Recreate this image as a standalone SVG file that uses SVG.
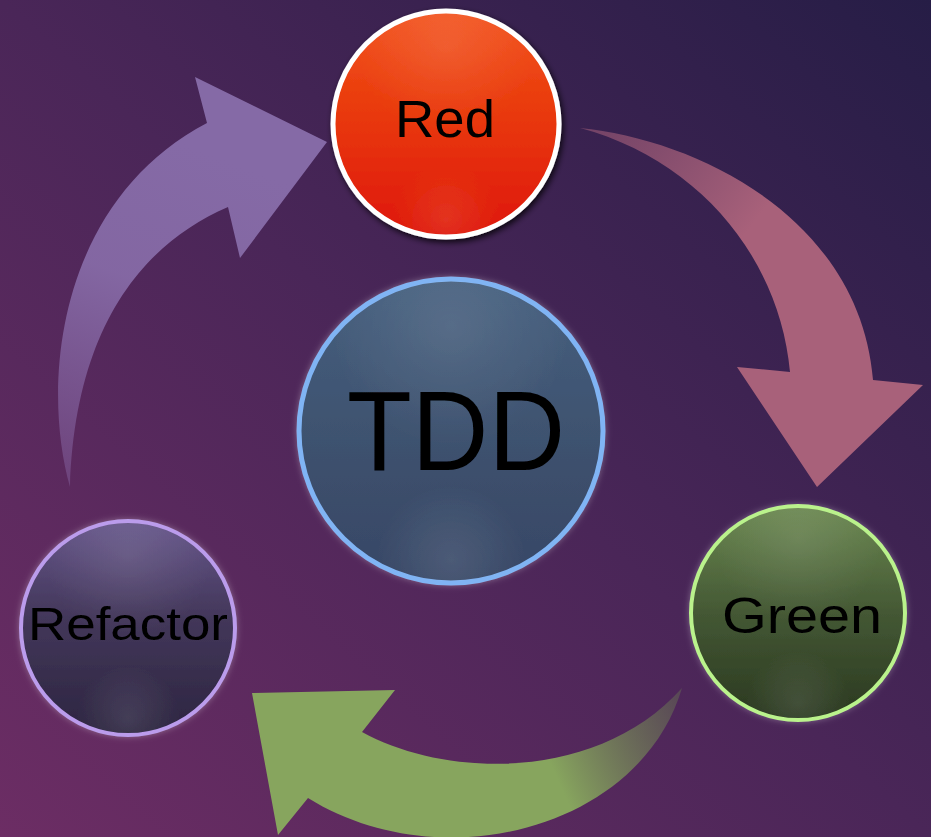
<svg xmlns="http://www.w3.org/2000/svg" width="931" height="837" viewBox="0 0 931 837">
<defs>
<linearGradient id="bg" x1="0" y1="1" x2="1" y2="0">
<stop offset="0" stop-color="#6c2d64"/>
<stop offset="0.5" stop-color="#4a2658"/>
<stop offset="1" stop-color="#261d46"/>
</linearGradient>
<linearGradient id="gPurple" gradientUnits="userSpaceOnUse" x1="70" y1="487" x2="200" y2="150">
<stop offset="0" stop-color="#8a6aa8" stop-opacity="0.4"/>
<stop offset="0.6" stop-color="#866aa6" stop-opacity="0.95"/>
<stop offset="1" stop-color="#856aa6"/>
</linearGradient>
<linearGradient id="gPink" gradientUnits="userSpaceOnUse" x1="580" y1="128" x2="800" y2="300">
<stop offset="0" stop-color="#8a5070" stop-opacity="0.7"/>
<stop offset="0.7" stop-color="#a8617a"/>
<stop offset="1" stop-color="#a8617a"/>
</linearGradient>
<linearGradient id="gGreen" gradientUnits="userSpaceOnUse" x1="682" y1="700" x2="460" y2="800">
<stop offset="0" stop-color="#6a7a52" stop-opacity="0.4"/>
<stop offset="0.6" stop-color="#87a55e"/>
<stop offset="1" stop-color="#87a55e"/>
</linearGradient>
<linearGradient id="lRed" x1="0" y1="0" x2="0" y2="1">
<stop offset="0" stop-color="#f25420"/>
<stop offset="0.5" stop-color="#e83608"/>
<stop offset="1" stop-color="#de1608"/>
</linearGradient>
<linearGradient id="lTdd" x1="0" y1="0" x2="0" y2="1">
<stop offset="0" stop-color="#46607f"/>
<stop offset="0.6" stop-color="#3d506d"/>
<stop offset="1" stop-color="#374766"/>
</linearGradient>
<linearGradient id="lRef" x1="0" y1="0" x2="0" y2="1">
<stop offset="0" stop-color="#65558a"/>
<stop offset="0.45" stop-color="#43375a"/>
<stop offset="1" stop-color="#2c2540"/>
</linearGradient>
<linearGradient id="lGrn" x1="0" y1="0" x2="0" y2="1">
<stop offset="0" stop-color="#6a8750"/>
<stop offset="0.5" stop-color="#445834"/>
<stop offset="1" stop-color="#2a3820"/>
</linearGradient>
<radialGradient id="hiTop" cx="0.5" cy="0.15" r="0.4">
<stop offset="0" stop-color="#ffffff" stop-opacity="0.1"/>
<stop offset="1" stop-color="#ffffff" stop-opacity="0"/>
</radialGradient>
<radialGradient id="hiBot" cx="0.5" cy="0.93" r="0.25">
<stop offset="0" stop-color="#ffffff" stop-opacity="0.1"/>
<stop offset="1" stop-color="#ffffff" stop-opacity="0"/>
</radialGradient>
<filter id="glow" x="-20%" y="-20%" width="140%" height="140%">
<feGaussianBlur in="SourceAlpha" stdDeviation="4"/>
<feFlood flood-color="#ffffff" flood-opacity="0.3"/>
<feComposite operator="in" in2="SourceGraphic"/>
<feGaussianBlur stdDeviation="3"/>
<feMerge><feMergeNode/><feMergeNode in="SourceGraphic"/></feMerge>
</filter>
<filter id="shadow" x="-20%" y="-20%" width="140%" height="140%">
<feGaussianBlur in="SourceAlpha" stdDeviation="3"/>
<feOffset dx="2" dy="3"/>
<feComponentTransfer><feFuncA type="linear" slope="0.8"/></feComponentTransfer>
<feMerge><feMergeNode/><feMergeNode in="SourceGraphic"/></feMerge>
</filter>
</defs>
<style>
.lbl{font-family:"Liberation Sans","DejaVu Sans",sans-serif;fill:#000;text-anchor:middle}
</style>
<rect width="931" height="837" fill="url(#bg)"/>
<g id="connectors">
<path d="M70,487 C40,380 60,200 207,123 L195,77 L327,142 L240,258 L228,207 C140,245 75,330 70,487 Z" fill="url(#gPurple)"/>
<path d="M580,128 C700,140 860,220 873,380 L923,385 L817,487 L737,367 L790,372 C780,260 700,160 580,128 Z" fill="url(#gPink)"/>
<path d="M252,693 L395,690 L362,732 C450,780 600,780 682,688 C640,830 440,880 308,798 L278,835 Z" fill="url(#gGreen)"/>
</g>
<g id="node-red" filter="url(#shadow)">
<circle cx="446" cy="124" r="113" fill="url(#lRed)" stroke="#ffffff" stroke-width="5"/>
<circle cx="446" cy="124" r="111" fill="url(#hiTop)"/>
<circle cx="446" cy="124" r="111" fill="url(#hiBot)"/>
<text class="lbl" x="445" y="137" font-size="51" textLength="100" lengthAdjust="spacingAndGlyphs">Red</text>
</g>
<g id="node-tdd" filter="url(#glow)">
<circle cx="451" cy="431" r="152" fill="url(#lTdd)" stroke="#80b4f4" stroke-width="5"/>
<circle cx="451" cy="431" r="150" fill="url(#hiTop)"/>
<circle cx="451" cy="431" r="150" fill="url(#hiBot)"/>
<text class="lbl" x="456" y="470" font-size="113" textLength="218" lengthAdjust="spacingAndGlyphs">TDD</text>
</g>
<g id="node-refactor" filter="url(#glow)">
<circle cx="128" cy="628" r="107" fill="url(#lRef)" stroke="#bb9cec" stroke-width="4"/>
<circle cx="128" cy="628" r="105" fill="url(#hiTop)"/>
<circle cx="128" cy="628" r="105" fill="url(#hiBot)"/>
<text class="lbl" x="128" y="640" font-size="46" textLength="200" lengthAdjust="spacingAndGlyphs">Refactor</text>
</g>
<g id="node-green" filter="url(#glow)">
<circle cx="798" cy="613" r="107" fill="url(#lGrn)" stroke="#baf28c" stroke-width="4"/>
<circle cx="798" cy="613" r="105" fill="url(#hiTop)"/>
<circle cx="798" cy="613" r="105" fill="url(#hiBot)"/>
<text class="lbl" x="802" y="633" font-size="50" textLength="160" lengthAdjust="spacingAndGlyphs">Green</text>
</g>
</svg>
